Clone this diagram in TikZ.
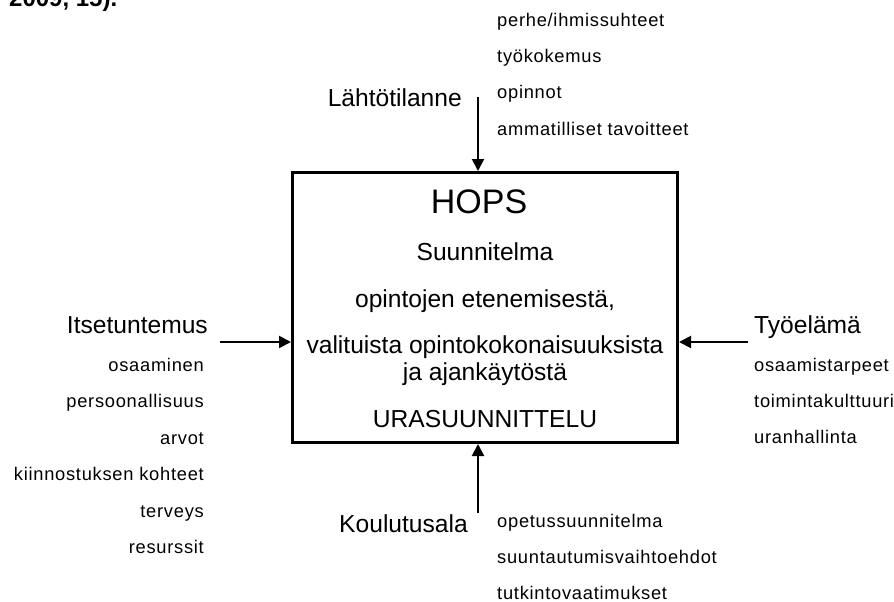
\documentclass[tikz,border=0pt]{standalone}
\usepackage{fontspec}
\setmainfont{Liberation Sans}
\newfontfamily\itemfont[LetterSpace=4]{Liberation Sans}
\usetikzlibrary{positioning, arrows.meta}

\begin{document}
\begin{tikzpicture}[x=1pt, y=-1pt,
    lbl/.style={font=\fontsize{24.6}{28}\selectfont, inner sep=0pt},
    item/.style={font=\itemfont\fontsize{18.3}{20}\selectfont, inner sep=0pt},
    arr/.style={-{Triangle[length=12pt, width=12pt]}, line width=2pt}]
    \useasboundingbox (0,0) rectangle (894,602);

    % lähdeviite (leikattu yläreunasta)
    \node[anchor=base west, inner sep=0pt, font=\bfseries\fontsize{24}{28}\selectfont] (lahde) at (9,7) {2009, 15).};

    % HOPS-laatikko
    \node[draw, line width=3pt, minimum width=385pt, minimum height=270pt, inner sep=0pt] (hops) at (485,307.5) {};
    \node[anchor=base, inner sep=0pt, font=\fontsize{34}{38}\selectfont] (otsikko) at (479,213) {HOPS};
    \node[lbl, anchor=base] (rivi1) at (485,260) {Suunnitelma};
    \node[lbl, anchor=base] (rivi2) at (485,307) {opintojen etenemisestä,};
    \node[lbl, anchor=base] (rivi3) at (485,353) {valituista opintokokonaisuuksista};
    \node[lbl, anchor=base] (rivi4) at (485,380) {ja ajankäytöstä};
    \node[lbl, anchor=base] (rivi5) at (485,427) {URASUUNNITTELU};

    % Lähtötilanne
    \node[lbl, anchor=base east] (lahto) at (462,106) {Lähtötilanne};
    \foreach \t [count=\i] in {perhe/ihmissuhteet, työkokemus, opinnot, ammatilliset tavoitteet}
        \node[item, anchor=base west] (lahto\i) at (497,-9+36*\i) {\t};
    \coordinate (lahtoin) at (478,97);
    \draw[arr] (lahtoin) -- (lahtoin |- hops.north);

    % Itsetuntemus
    \node[lbl, anchor=base east] (itse) at (208,333) {Itsetuntemus};
    \foreach \t [count=\i] in {osaaminen, persoonallisuus, arvot, kiinnostuksen kohteet, terveys, resurssit}
        \node[item, anchor=base east] (itse\i) at (204,334.5+36.5*\i) {\t};
    \coordinate (itsein) at (220,342);
    \draw[arr] (itsein) -- (itsein -| hops.west);

    % Työelämä
    \node[lbl, anchor=base west] (tyo) at (754,333) {Työelämä};
    \foreach \t [count=\i] in {osaamistarpeet, toimintakulttuuri, uranhallinta}
        \node[item, anchor=base west] (tyo\i) at (754,335+36*\i) {\t};
    \coordinate (tyoin) at (748,342);
    \draw[arr] (tyoin) -- (tyoin -| hops.east);

    % Koulutusala
    \node[lbl, anchor=base east] (koulu) at (468,532) {Koulutusala};
    \foreach \t [count=\i] in {opetussuunnitelma, suuntautumisvaihtoehdot, tutkintovaatimukset}
        \node[item, anchor=base west] (koulu\i) at (497,491+36*\i) {\t};
    \coordinate (kouluin) at (478,513);
    \draw[arr] (kouluin) -- (kouluin |- hops.south);
\end{tikzpicture}
\end{document}
